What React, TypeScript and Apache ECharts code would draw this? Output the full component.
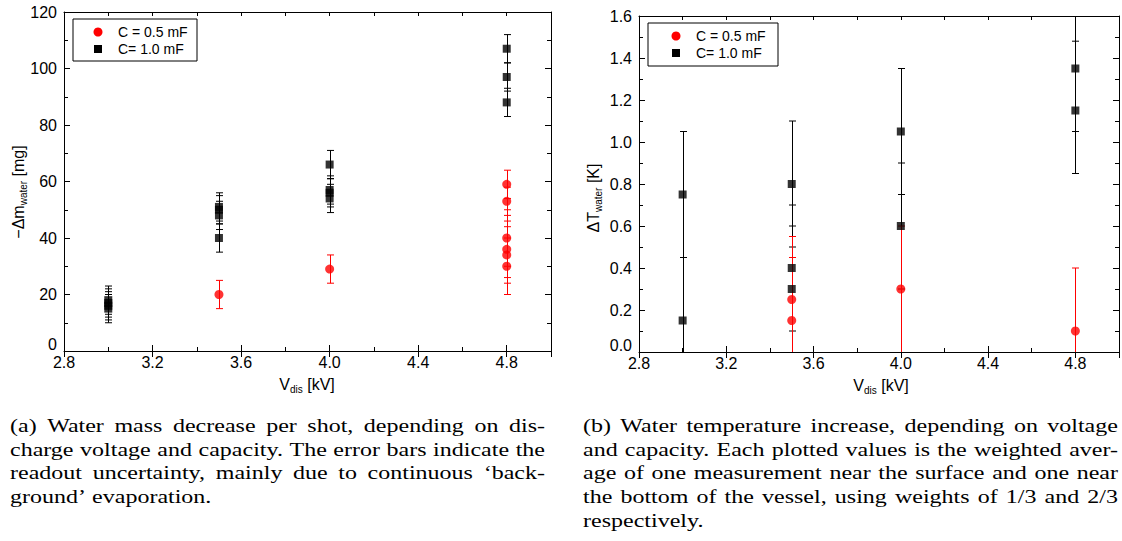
import React, { useEffect, useRef } from "react";
import * as echarts from "echarts";

// ---------------- data ----------------
const xMin = 2.8;
const xMax = 5.0;

// (a) water mass decrease [mg]
const massRedX = [3.5, 4.0, 4.8, 4.8, 4.8, 4.8, 4.8, 4.8];
const massRedY = [20, 29, 59, 53, 40, 36, 34, 30];
const massRedErr = [5, 5, 5, 5, 10, 10, 10, 10];

const massBlackX = [3.0, 3.0, 3.0, 3.0, 3.5, 3.5, 3.5, 3.5, 4.0, 4.0, 4.0, 4.0, 4.8, 4.8, 4.8];
const massBlackY = [15, 16, 17, 18, 40, 48, 50, 51, 54, 56, 57, 66, 88, 97, 107];
const massBlackErr = [5, 5, 5, 5, 5, 5, 5, 5, 5, 5, 5, 5, 5, 5, 5];

// (b) water temperature increase [K]
const tempRedX = [3.5, 3.5, 4.0, 4.8];
const tempRedY = [0.25, 0.15, 0.3, 0.1];
const tempRedErr = [0.3, 0.3, 0.3, 0.3];

const tempBlackX = [3.0, 3.0, 3.5, 3.5, 3.5, 4.0, 4.0, 4.8, 4.8];
const tempBlackY = [0.75, 0.15, 0.8, 0.4, 0.3, 1.05, 0.6, 1.35, 1.15];
const tempBlackErrUp = [0.3, 0.3, 0.3, 0.3, 0.3, 0.3, 0.3, 0.3, 0.33];
const tempBlackErrDown = [0.3, 0.3, 0.3, 0.3, 0.3, 0.3, 0.3, 0.3, 0.3];

const legendLabels = ["C = 0.5 mF", "C= 1.0 mF"];

const captionA = [
  "(a) Water mass decrease per shot, depending on dis-",
  "charge voltage and capacity. The error bars indicate the",
  "readout uncertainty, mainly due to continuous \u2018back-",
  "ground\u2019 evaporation.",
];
const captionB = [
  "(b) Water temperature increase, depending on voltage",
  "and capacity. Each plotted values is the weighted aver-",
  "age of one measurement near the surface and one near",
  "the bottom of the vessel, using weights of 1/3 and 2/3",
  "respectively.",
];

// ---------------- helpers ----------------
const RED = "#ff0000";
const BLACK = "#000000";
const SANS = "Liberation Sans, Arial, sans-serif";
const SERIF = "Liberation Serif";

function errRows(xs: number[], ys: number[], down: number[], up: number[]) {
  return xs.map((x, i) => [x, ys[i], ys[i] - down[i], ys[i] + up[i]]);
}
function pts(xs: number[], ys: number[]) {
  return xs.map((x, i) => [x, ys[i]]);
}

function makeErrRender(color: string) {
  return (params: any, api: any) => {
    const x = api.value(0);
    const lo = api.value(2);
    const hi = api.value(3);
    const cs = params.coordSys;
    const top = api.coord([x, hi]);
    const bot = api.coord([x, lo]);
    const px = Math.round(top[0]) + 0.5;
    const yTop = Math.max(top[1], cs.y);
    const yBot = Math.min(bot[1], cs.y + cs.height);
    const st = { stroke: color, lineWidth: 1 };
    const cap = 3.5;
    const children: any[] = [
      { type: "line", shape: { x1: px, y1: yTop, x2: px, y2: yBot }, style: st },
    ];
    if (top[1] >= cs.y) {
      children.push({ type: "line", shape: { x1: px - cap, y1: top[1], x2: px + cap, y2: top[1] }, style: st });
    }
    if (bot[1] <= cs.y + cs.height - 1) {
      children.push({ type: "line", shape: { x1: px - cap, y1: bot[1], x2: px + cap, y2: bot[1] }, style: st });
    }
    return { type: "group", children };
  };
}

const tickLine = { color: BLACK, width: 1 };

function xAxesFor(g: number) {
  const base = {
    type: "value",
    gridIndex: g,
    min: xMin,
    max: xMax,
    splitLine: { show: false },
    axisLine: { show: true, onZero: false, lineStyle: tickLine },
  };
  const fmt = (v: number) => (v > 4.9 ? "" : v.toFixed(1));
  return [
    { ...base, position: "bottom", interval: 0.2, axisTick: { inside: true, length: 4, lineStyle: tickLine }, axisLabel: { show: false } },
    {
      ...base,
      position: "bottom",
      interval: 0.4,
      axisLine: { show: false },
      axisTick: { inside: true, length: 6, lineStyle: tickLine },
      axisLabel: { show: true, color: BLACK, fontSize: 16, fontFamily: SANS, margin: 3, formatter: fmt },
    },
    { ...base, position: "top", interval: 0.2, axisTick: { inside: true, length: 4, lineStyle: tickLine }, axisLabel: { show: false } },
    { ...base, position: "top", interval: 0.4, axisLine: { show: false }, axisTick: { inside: true, length: 6, lineStyle: tickLine }, axisLabel: { show: false } },
  ];
}

function yAxesFor(g: number, max: number, interval: number, fmt: (v: number) => string) {
  const base = {
    type: "value",
    gridIndex: g,
    min: 0,
    max,
    interval,
    splitLine: { show: false },
    axisLine: { show: true, onZero: false, lineStyle: tickLine },
    axisTick: { inside: true, length: 6, lineStyle: tickLine },
    minorTick: { show: true, splitNumber: 2, length: 4, lineStyle: tickLine },
  };
  return [
    {
      ...base,
      position: "left",
      axisLabel: {
        show: true,
        color: BLACK,
        fontSize: 16,
        fontFamily: SANS,
        margin: 7,
        formatter: (v: number) => (v === 0 ? `{z|${fmt(v)}}` : fmt(v)),
        rich: { z: { fontSize: 16, fontFamily: SANS, color: BLACK, padding: [0, 0, 14, 0] } },
      },
    },
    { ...base, position: "right", axisLabel: { show: false } },
  ];
}

function legendGraphics(x: number, y: number, w: number, h: number, mx: number, tx: number, y1: number, y2: number) {
  return [
    { type: "rect", shape: { x, y, width: w, height: h }, style: { fill: "#fff", stroke: BLACK, lineWidth: 1 }, z: 10 },
    { type: "circle", shape: { cx: mx, cy: y1, r: 4.5 }, style: { fill: RED }, z: 11 },
    { type: "rect", shape: { x: mx - 4, y: y2 - 4, width: 8, height: 8 }, style: { fill: BLACK }, z: 11 },
    { type: "text", x: tx, y: y1, style: { text: legendLabels[0], fill: BLACK, fontSize: 14, fontFamily: SANS, verticalAlign: "middle" }, z: 11 },
    { type: "text", x: tx, y: y2, style: { text: legendLabels[1], fill: BLACK, fontSize: 14, fontFamily: SANS, verticalAlign: "middle" }, z: 11 },
  ];
}

function axisTitle(x: number, y: number, main: string, sub: string, tail: string, rotate: boolean) {
  return {
    type: "text",
    x,
    y,
    rotation: rotate ? Math.PI / 2 : 0,
    style: {
      text: `{a|${main}}{s|${sub}}{a|${tail}}`,
      align: "center",
      verticalAlign: "middle",
      rich: {
        a: { fontSize: 16, fontFamily: SANS, fill: BLACK, lineHeight: 20 },
        s: { fontSize: 10, fontFamily: SANS, fill: BLACK, lineHeight: 10, verticalAlign: "bottom" },
      },
    },
  };
}

const CAP_FONT_SIZE = 19.5;
function captionGraphics(lines: string[], x0: number, width: number, y0: number, lh: number, refLine: string) {
  const canvas = document.createElement("canvas");
  const ctx = canvas.getContext("2d") as CanvasRenderingContext2D;
  ctx.font = `${CAP_FONT_SIZE}px "${SERIF}"`;
  const natural = ctx.measureText(refLine).width;
  let s = (width - 4) / natural;
  s = Math.max(1, Math.min(1.3, s));
  const out: any[] = [];
  lines.forEach((line, li) => {
    const y = y0 + li * lh;
    const words = line.split(" ");
    const justify = li < lines.length - 1;
    const widths = words.map((w) => ctx.measureText(w).width * s);
    const total = widths.reduce((a, b) => a + b, 0);
    const spaceW = ctx.measureText(" ").width * s;
    const gap = justify && words.length > 1 ? (width - total) / (words.length - 1) : spaceW;
    let x = x0;
    words.forEach((w, wi) => {
      out.push({
        type: "text",
        x,
        y,
        scaleX: s,
        style: { text: w, fill: BLACK, fontSize: CAP_FONT_SIZE, fontFamily: SERIF, verticalAlign: "middle" },
      });
      x += widths[wi] + gap;
    });
  });
  return out;
}

export default function App() {
  const ref = useRef<HTMLDivElement>(null);
  useEffect(() => {
    document.body.style.margin = "0";
    if (!ref.current) return;
    const chart = echarts.init(ref.current, undefined, { renderer: "svg" });

    const option: any = {
      animation: false,
      backgroundColor: "#ffffff",
      textStyle: { fontFamily: SANS },
      grid: [
        { left: 64, top: 12, width: 487, height: 339 },
        { left: 639, top: 16, width: 482, height: 336 },
      ],
      xAxis: [...xAxesFor(0), ...xAxesFor(1)],
      yAxis: [
        ...yAxesFor(0, 120, 20, (v: number) => String(v)),
        ...yAxesFor(1, 1.6, 0.2, (v: number) => v.toFixed(1)),
      ],
      series: [
        // (a)
        { type: "custom", name: "errA1", xAxisIndex: 0, yAxisIndex: 0, renderItem: makeErrRender(BLACK), data: errRows(massBlackX, massBlackY, massBlackErr, massBlackErr), silent: true },
        { type: "scatter", name: legendLabels[1], xAxisIndex: 0, yAxisIndex: 0, symbol: "rect", symbolSize: 8, itemStyle: { color: BLACK }, data: pts(massBlackX, massBlackY) },
        { type: "custom", name: "errA0", xAxisIndex: 0, yAxisIndex: 0, renderItem: makeErrRender(RED), data: errRows(massRedX, massRedY, massRedErr, massRedErr), silent: true },
        { type: "scatter", name: legendLabels[0], xAxisIndex: 0, yAxisIndex: 0, symbol: "circle", symbolSize: 9, itemStyle: { color: RED }, data: pts(massRedX, massRedY) },
        // (b)
        { type: "custom", name: "errB1", xAxisIndex: 4, yAxisIndex: 2, renderItem: makeErrRender(BLACK), data: errRows(tempBlackX, tempBlackY, tempBlackErrDown, tempBlackErrUp), silent: true },
        { type: "scatter", name: legendLabels[1], xAxisIndex: 4, yAxisIndex: 2, symbol: "rect", symbolSize: 8, itemStyle: { color: BLACK }, data: pts(tempBlackX, tempBlackY) },
        { type: "custom", name: "errB0", xAxisIndex: 4, yAxisIndex: 2, renderItem: makeErrRender(RED), data: errRows(tempRedX, tempRedY, tempRedErr, tempRedErr), silent: true },
        { type: "scatter", name: legendLabels[0], xAxisIndex: 4, yAxisIndex: 2, symbol: "circle", symbolSize: 9, itemStyle: { color: RED }, data: pts(tempRedX, tempRedY) },
      ],
      graphic: [
        ...legendGraphics(73, 19, 124, 42, 98, 118, 32, 49),
        ...legendGraphics(648, 23, 130, 43, 676, 696, 36, 53),
        axisTitle(307, 384, "V", "dis", " [kV]", false),
        axisTitle(881, 385, "V", "dis", " [kV]", false),
        axisTitle(18, 192, "\u2212\u0394m", "water", " [mg]", true),
        axisTitle(593, 198, "\u0394T", "water", " [K]", true),
        ...captionGraphics(captionA, 10, 535, 426, 23.6, captionA[1]),
        ...captionGraphics(captionB, 583, 535, 426, 23.6, captionA[1]),
      ],
    };
    chart.setOption(option);
    return () => chart.dispose();
  }, []);
  return <div ref={ref} style={{ position: "fixed", left: 0, top: 0, width: 1122, height: 541 }} />;
}
